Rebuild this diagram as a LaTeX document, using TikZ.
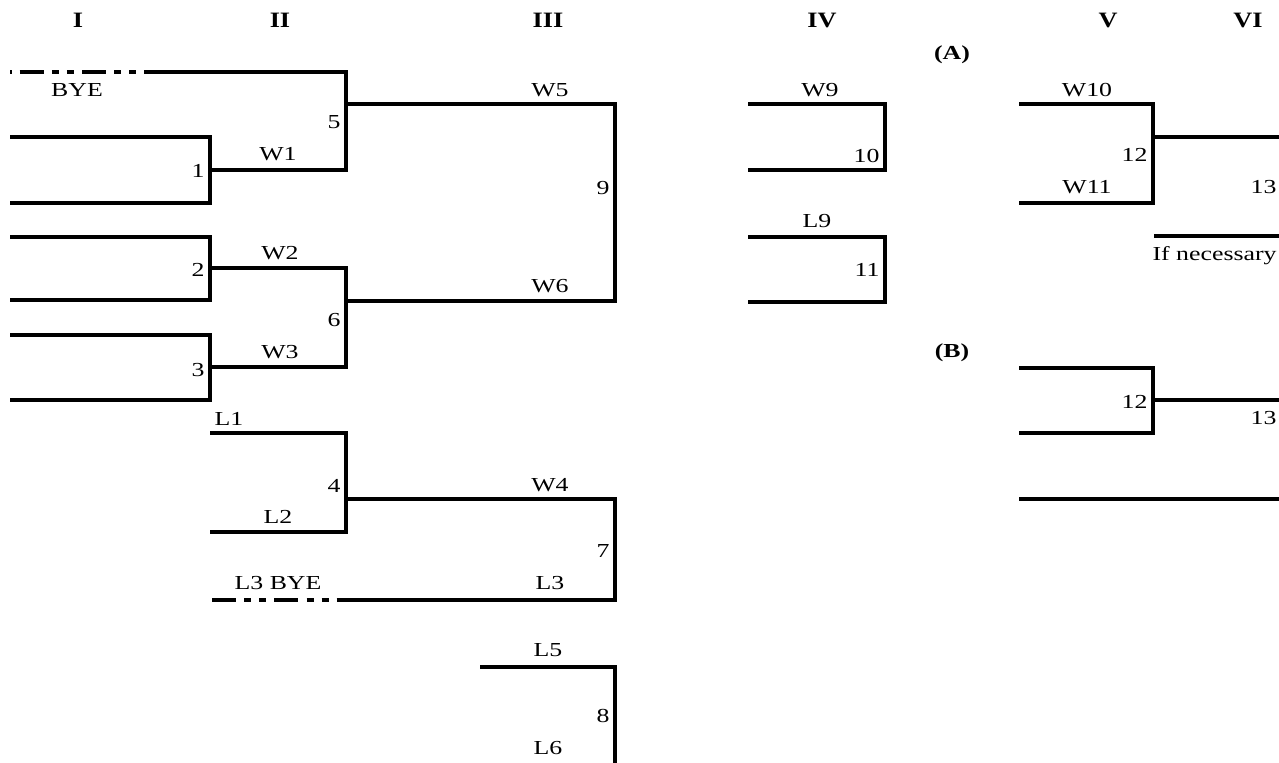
\documentclass[tikz,border=0pt]{standalone}
\usepackage{fontspec}
\setmainfont{Liberation Serif}
\usetikzlibrary{positioning}
\tikzset{
every node/.style={ % plain labels, set on their baseline, a little wide
inner sep=0pt, xscale=1.3,
font=\fontsize{11.3}{13}\selectfont},
lbl/.style={anchor=base}, % text above a line
num/.style={anchor=base east}, % game number left of a bracket
head/.style={anchor=base, xscale=0.92, font=\fontsize{12.5}{14}\selectfont\bfseries},
part/.style={anchor=base, font=\fontsize{11.3}{13}\selectfont\bfseries},
bracket/.style={draw, line width=2pt},
byeline/.style={ % broken line for a bye
draw, line width=2pt,
dash pattern=on 13.7pt off 4.6pt on 4pt off 4.6pt on 4pt off 4.6pt}}

\begin{document}
\begin{tikzpicture}[x=0.02cm, y=-0.02cm]
	\useasboundingbox (0,0) rectangle (1279,763);
	% round headings
	\node[head] (hI) at (78,28) {I};
	\node[head] (hII) at (280,28) {II};
	\node[head] (hIII) at (548,28) {III};
	\node[head] (hIV) at (822,28) {IV};
	\node[head] (hV) at (1108,28) {V};
	\node[head] (hVI) at (1248,28) {VI};
	\node[part] (pA) at (952,60) {(A)};
	\node[part] (pB) at (952,358) {(B)};
	% winners side
	\draw[byeline, dash phase=30pt] (10,72) -- (144,72);
	\draw[bracket] (144,72) -| (346,170) -- (210,170);
	\draw[bracket] (10,137) -| (210,203) -- (10,203);
	\draw[bracket] (10,237) -| (210,300) -- (10,300);
	\draw[bracket] (10,335) -| (210,400) -- (10,400);
	\draw[bracket] (210,268) -| (346,367) -- (210,367);
	\draw[bracket] (346,104) -| (615,301) -- (346,301);
	% losers side
	\draw[bracket] (210,433) -| (346,532) -- (210,532);
	\draw[bracket] (346,499) -| (615,600) -- (346,600);
	\draw[byeline] (212,600) -- (346,600);
	\draw[bracket] (480,667) -| (615,763);
	% round IV
	\draw[bracket] (748,104) -| (885,170) -- (748,170);
	\draw[bracket] (748,237) -| (885,302) -- (748,302);
	% final (A)
	\draw[bracket] (1019,104) -| (1153,203) -- (1019,203);
	\draw[bracket] (1153,137) -- (1279,137);
	\draw[bracket] (1154,236) -- (1279,236);
	% final (B)
	\draw[bracket] (1019,368) -| (1153,433) -- (1019,433);
	\draw[bracket] (1153,400) -- (1279,400);
	\draw[bracket] (1019,499) -- (1279,499);
	% labels
	\node[lbl] (bye) at (77,97) {BYE};
	\node[num] (g1) at (205,178) {1};
	\node[num] (g2) at (205,277) {2};
	\node[num] (g3) at (205,377) {3};
	\node[num] (g5) at (341,129) {5};
	\node[num] (g6) at (341,327) {6};
	\node[num] (g9) at (610,195) {9};
	\node[num] (g4) at (341,493) {4};
	\node[num] (g7) at (610,558) {7};
	\node[num] (g8) at (610,723) {8};
	\node[lbl] (w1) at (278,161) {W1};
	\node[lbl] (w2) at (280,260) {W2};
	\node[lbl] (w3) at (280,359) {W3};
	\node[lbl] (w5) at (550,97) {W5};
	\node[lbl] (w6) at (550,293) {W6};
	\node[lbl] (l1) at (229,426) {L1};
	\node[lbl] (l2) at (278,524) {L2};
	\node[lbl] (w4) at (550,492) {W4};
	\node[lbl] (l3bye) at (278,590) {L3 BYE};
	\node[lbl] (l3) at (550,590) {L3};
	\node[lbl] (l5) at (548,657) {L5};
	\node[lbl] (l6) at (548,754) {L6};
	\node[lbl] (w9) at (820,97) {W9};
	\node[num] (g10) at (880,163) {10};
	\node[lbl] (l9) at (817,228) {L9};
	\node[num] (g11) at (880,277) {11};
	\node[lbl] (w10) at (1087,97) {W10};
	\node[lbl] (w11) at (1087,194) {W11};
	\node[num] (g12a) at (1148,162) {12};
	\node[num] (g13a) at (1277,194) {13};
	\node[num] (ifnec) at (1277,261) {If necessary};
	\node[num] (g12b) at (1148,409) {12};
	\node[num] (g13b) at (1277,425) {13};
\end{tikzpicture}
\end{document}
